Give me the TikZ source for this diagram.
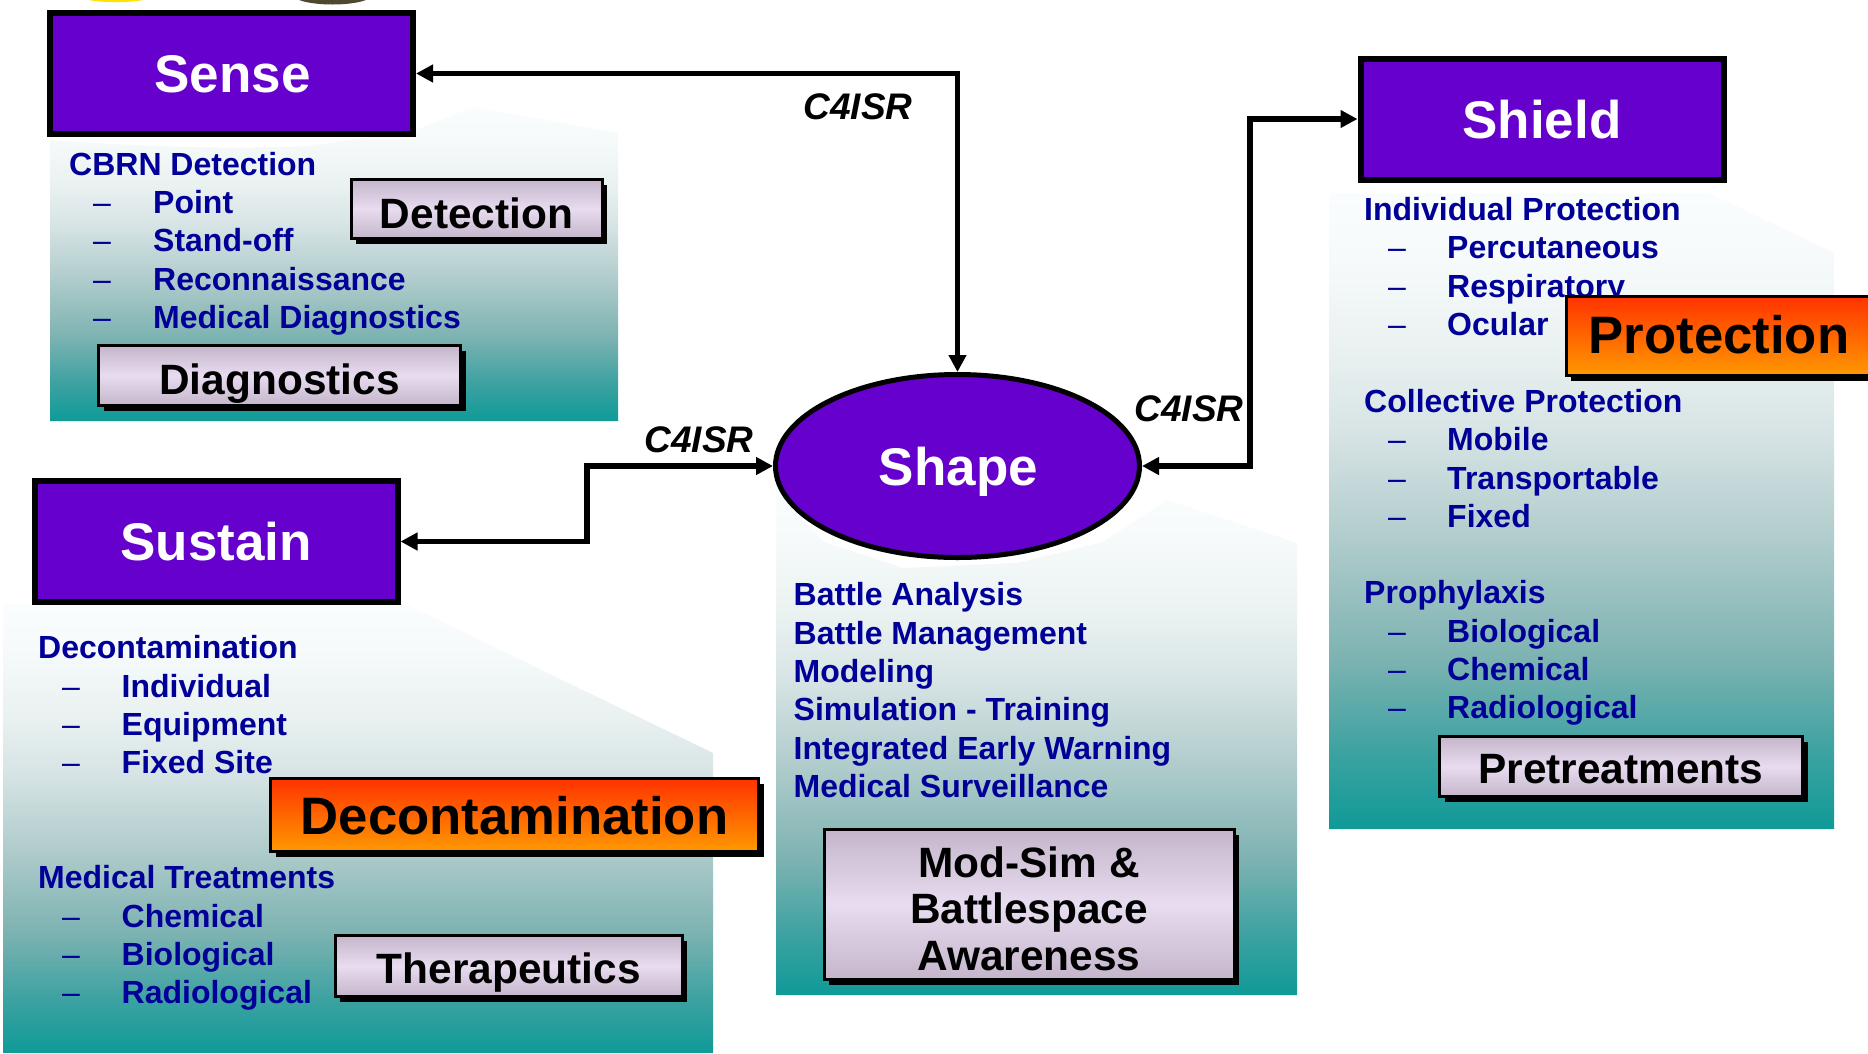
\documentclass[tikz,border=0pt]{standalone}
\usepackage{fontspec}
\setmainfont{Liberation Sans}
\usetikzlibrary{shapes.geometric,arrows.meta,shadows}
\definecolor{violetbox}{HTML}{6600CC}
\definecolor{navytxt}{HTML}{000099}
\definecolor{pa}{HTML}{F9FDFD}
\definecolor{pb}{HTML}{F6FAFA}
\definecolor{pc}{HTML}{EAF1F1}
\definecolor{pd}{HTML}{D6E3E4}
\definecolor{pe}{HTML}{AFCBCB}
\definecolor{pf}{HTML}{7DB3B2}
\definecolor{pg}{HTML}{3CA2A1}
\definecolor{ph}{HTML}{0F9A98}
\pgfdeclareverticalshading{panelsh}{100bp}{
  color(0bp)=(ph); color(25bp)=(ph); color(31bp)=(pg); color(38.5bp)=(pf);
  color(47.5bp)=(pe); color(56bp)=(pd); color(62.5bp)=(pc); color(70bp)=(pb);
  color(75bp)=(pa); color(100bp)=(pa)}
\definecolor{lavA}{HTML}{C4B5CA}
\definecolor{lavB}{HTML}{E8DCF1}
\definecolor{orTop}{HTML}{FF3300}
\definecolor{orBot}{HTML}{FF9900}
\tikzset{
  panel/.style={shading=panelsh,draw=none},
  mainbox/.style={draw=black,line width=6pt,fill=violetbox,text=white,inner sep=0pt,
     font=\bfseries\fontsize{53}{60}\selectfont,minimum width=363pt,minimum height=121pt,text depth=0pt},
  mainell/.style={ellipse,draw=black,line width=5pt,fill=violetbox,text=white,inner sep=0pt,
     font=\bfseries\fontsize{53}{60}\selectfont,minimum width=364pt,minimum height=183pt,text depth=0pt},
  hd/.style={anchor=base west,inner sep=0pt,text=navytxt,font=\bfseries\fontsize{32}{38}\selectfont},
  dsh/.style={anchor=base west,inner sep=0pt,text=navytxt,font=\fontsize{32}{38}\selectfont},
  tagbase/.style={draw=black,line width=3pt,inner sep=0pt,text=black,align=center,text depth=0pt,
     font=\bfseries\fontsize{42.4}{46.5}\selectfont,
     drop shadow={shadow xshift=5pt,shadow yshift=-5pt,fill=black,opacity=1}},
  lavtag/.style={tagbase,top color=lavA,bottom color=lavA,middle color=lavB},
  ortag/.style={tagbase,top color=orTop,bottom color=orBot,font=\bfseries\fontsize{52.7}{60}\selectfont},
  c4/.style={anchor=base,inner sep=0pt,text=black,font=\bfseries\itshape\fontsize{37}{40}\selectfont},
  link/.style={draw=black,line width=5.5pt,{Triangle[length=17pt,width=17pt]}-{Triangle[length=17pt,width=17pt]}},
}
\begin{document}
\begin{tikzpicture}[x=1pt,y=-1pt]
\clip (0,0) rectangle (1868,1053);
\fill[white] (0,0) rectangle (1868,1053);
% scraps of emblems at the upper edge
\fill[yellow!85!orange] (89,0) .. controls (105,3) and (127,3) .. (143,0) -- cycle;
\fill[black!60!olive] (299,0) .. controls (315,6) and (350,6) .. (366,0) -- cycle;
% panels
\shade[panel] (50,140) .. controls (130,146) and (230,150) .. (310,146) -- (416,130) -- (473,107) -- (618,133) -- (618,421) -- (50,421) -- cycle;
\shade[panel] (1329,193) -- (1709,193) -- (1834,253) -- (1834,829) -- (1329,829) -- cycle;
\shade[panel] (776,490) -- (803,520) -- (824,542) -- (903,568) -- (1017,563) -- (1103,542) -- (1167,500) -- (1297,543) -- (1297,995) -- (776,995) -- cycle;
\shade[panel] (3,604) -- (405,604) -- (713,753) -- (713,1053) -- (3,1053) -- cycle;
% lists
\node[hd] (s0) at (69,175) {CBRN Detection};
\node[dsh] (s1d) at (93,213) {–}; \node[hd] (s1) at (153,213) {Point};
\node[dsh] (s2d) at (93,251) {–}; \node[hd] (s2) at (153,251) {Stand-off};
\node[dsh] (s3d) at (93,290) {–}; \node[hd] (s3) at (153,290) {Reconnaissance};
\node[dsh] (s4d) at (93,328) {–}; \node[hd] (s4) at (153,328) {Medical Diagnostics};
%
\node[hd] (p0) at (1364,220) {Individual Protection};
\node[dsh] (p1d) at (1388,258) {–}; \node[hd] (p1) at (1447,258) {Percutaneous};
\node[dsh] (p2d) at (1388,297) {–}; \node[hd] (p2) at (1447,297) {Respiratory};
\node[dsh] (p3d) at (1388,335) {–}; \node[hd] (p3) at (1447,335) {Ocular};
\node[hd] (c0) at (1364,412) {Collective Protection};
\node[dsh] (c1d) at (1388,450) {–}; \node[hd] (c1) at (1447,450) {Mobile};
\node[dsh] (c2d) at (1388,489) {–}; \node[hd] (c2) at (1447,489) {Transportable};
\node[dsh] (c3d) at (1388,527) {–}; \node[hd] (c3) at (1447,527) {Fixed};
\node[hd] (x0) at (1364,603) {Prophylaxis};
\node[dsh] (x1d) at (1388,642) {–}; \node[hd] (x1) at (1447,642) {Biological};
\node[dsh] (x2d) at (1388,680) {–}; \node[hd] (x2) at (1447,680) {Chemical};
\node[dsh] (x3d) at (1388,718) {–}; \node[hd] (x3) at (1447,718) {Radiological};
%
\node[hd] (m1) at (793.5,605) {Battle Analysis};
\node[hd] (m2) at (793.5,644) {Battle Management};
\node[hd] (m3) at (793.5,682) {Modeling};
\node[hd] (m4) at (793.5,720.2) {Simulation - Training};
\node[hd] (m5) at (793.5,759) {Integrated Early Warning};
\node[hd] (m6) at (793.5,797) {Medical Surveillance};
%
\node[hd] (d0) at (38,658) {Decontamination};
\node[dsh] (d1d) at (62,697) {–}; \node[hd] (d1) at (121.5,697) {Individual};
\node[dsh] (d2d) at (62,735) {–}; \node[hd] (d2) at (121.5,735) {Equipment};
\node[dsh] (d3d) at (62,773) {–}; \node[hd] (d3) at (121.5,773) {Fixed Site};
\node[hd] (t0) at (38,888) {Medical Treatments};
\node[dsh] (t1d) at (62,927) {–}; \node[hd] (t1) at (121.5,927) {Chemical};
\node[dsh] (t2d) at (62,965) {–}; \node[hd] (t2) at (121.5,965) {Biological};
\node[dsh] (t3d) at (62,1003) {–}; \node[hd] (t3) at (121.5,1003) {Radiological};
% capability tags
\node[lavtag,minimum width=251pt,minimum height=59pt,text height=38pt] (detection) at (476.5,209) {Detection};
\node[lavtag,minimum width=362pt,minimum height=60pt,text height=37pt] (diagnostics) at (279.5,375.5) {Diagnostics};
\node[ortag,minimum width=306pt,minimum height=79pt,text height=34pt] (protection) at (1719,336) {Protection};
\node[lavtag,minimum width=363pt,minimum height=60pt,text height=34pt] (pretreat) at (1621,766.5) {Pretreatments};
\node[ortag,minimum width=488pt,minimum height=73pt,text height=39pt] (decon) at (514.5,815) {Decontamination};
\node[lavtag,minimum width=347pt,minimum height=61pt,text height=34pt] (thera) at (508.75,966) {Therapeutics};
\node[lavtag,minimum width=410pt,minimum height=150pt,text height=131pt] (modsim) at (1029,904.5) {Mod-Sim \&\\Battlespace\\Awareness};
% main boxes
\node[mainbox,text height=37pt] (sense) at (231.5,73.5) {\kern2pt Sense};
\node[mainbox,text height=38pt] (shield) at (1542,119) {Shield};
\node[mainbox,text height=37pt] (sustain) at (216,541.5) {Sustain};
\node[mainell,text height=38pt] (shape) at (957.5,466) {\kern2pt Shape};
% connectors
\coordinate (kshield) at (1250,119);
\coordinate (ksustain) at (587,466);
\draw[link] (sense.east) -| (shape.north);
\draw[link] (shape.east) -| (kshield) -- (shield.west);
\draw[link] (sustain.east) -| (ksustain) -- (shape.west);
\node[c4] (la) at (858,119) {C4ISR};
\node[c4] (lb) at (1189,421) {C4ISR};
\node[c4] (lc) at (699,452) {C4ISR};
\end{tikzpicture}
\end{document}
